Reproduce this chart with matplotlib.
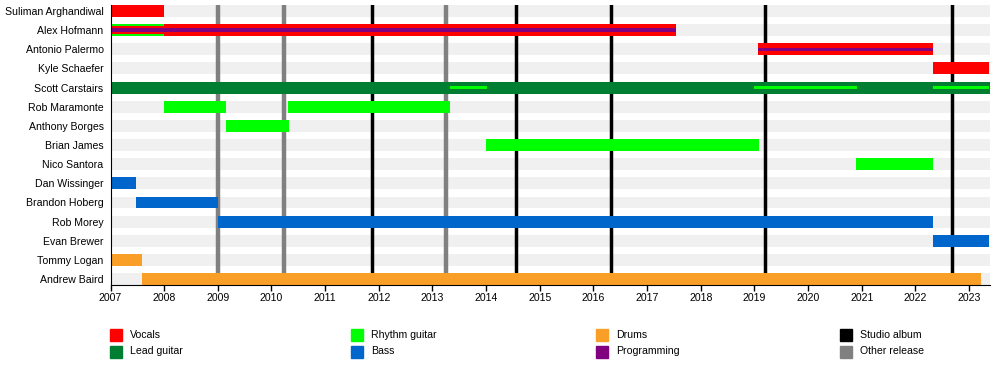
import matplotlib.pyplot as plt
from matplotlib.patches import Rectangle

plt.rcParams['font.family'] = ['Liberation Sans', 'DejaVu Sans']

# band members, top to bottom
members = ["Suliman Arghandiwal", "Alex Hofmann", "Antonio Palermo", "Kyle Schaefer",
           "Scott Carstairs", "Rob Maramonte", "Anthony Borges", "Brian James",
           "Nico Santora", "Dan Wissinger", "Brandon Hoberg", "Rob Morey",
           "Evan Brewer", "Tommy Logan", "Andrew Baird"]

START = 2007.0
END = 2023.38

# (member, start, end) for each role
vocals = [("Suliman Arghandiwal", 2007.0, 2008.0),
          ("Alex Hofmann", 2008.0, 2017.54),
          ("Antonio Palermo", 2019.06, 2022.33),
          ("Kyle Schaefer", 2022.33, END)]
lead_guitar = [("Scott Carstairs", 2007.0, END)]
rhythm_guitar = [("Alex Hofmann", 2007.0, 2008.0),
                 ("Rob Maramonte", 2008.0, 2009.16),
                 ("Rob Maramonte", 2010.31, 2013.33),
                 ("Anthony Borges", 2009.15, 2010.32),
                 ("Brian James", 2014.0, 2019.08),
                 ("Nico Santora", 2020.9, 2022.33)]
bass = [("Dan Wissinger", 2007.0, 2007.47),
        ("Brandon Hoberg", 2007.47, 2009.0),
        ("Rob Morey", 2009.0, 2022.33),
        ("Evan Brewer", 2022.33, END)]
drums = [("Tommy Logan", 2007.0, 2007.59),
         ("Andrew Baird", 2007.59, 2023.22)]

# secondary roles drawn as narrower bars inside the main one
vocals_inner = [("Alex Hofmann", 2007.0, 2008.0)]
programming = [("Alex Hofmann", 2007.0, 2017.54),
               ("Antonio Palermo", 2019.06, 2022.33)]
rhythm_inner = [("Scott Carstairs", 2013.32, 2014.02),
                ("Scott Carstairs", 2019.0, 2020.92),
                ("Scott Carstairs", 2022.33, END)]

studio_albums = [2011.88, 2014.56, 2016.33, 2019.19, 2022.69]
other_releases = [2009.0, 2010.24, 2013.25]

colors = {"Vocals": "#ff0000", "Lead guitar": "#007f33", "Rhythm guitar": "#00ff00",
          "Bass": "#0066cc", "Drums": "#f99f28", "Programming": "#800080",
          "Studio album": "#000000", "Other release": "#808080"}

fig = plt.figure(figsize=(10, 3.65), dpi=100)
ax = fig.add_axes([0.1105, 0.2192, 0.879, 0.767])

ypos = {m: i for i, m in enumerate(members)}

# background stripes
ax.barh(range(len(members)), END - START, left=START, height=0.62,
        color="#f0f0f0", zorder=0)

for x in studio_albums:
    ax.axvline(x, color=colors["Studio album"], lw=2.5, zorder=1)
for x in other_releases:
    ax.axvline(x, color=colors["Other release"], lw=3.2, zorder=1)


def draw(rows, color, h, z):
    for name, s, e in rows:
        ax.barh(ypos[name], e - s, left=s, height=h, color=color, zorder=z, lw=0)


draw(vocals, colors["Vocals"], 0.62, 2)
draw(lead_guitar, colors["Lead guitar"], 0.62, 2)
draw(rhythm_guitar, colors["Rhythm guitar"], 0.62, 2)
draw(bass, colors["Bass"], 0.62, 2)
draw(drums, colors["Drums"], 0.62, 2)
draw(vocals_inner, colors["Vocals"], 0.38, 3)
draw(rhythm_inner, colors["Rhythm guitar"], 0.2, 3)
draw(programming, colors["Programming"], 0.18, 4)

ax.set_xlim(START, END)
ax.set_ylim(len(members) - 1 + 0.31, -0.31)
ax.set_yticks(range(len(members)))
ax.set_yticklabels(members, fontsize=7.6)
ax.set_xticks(range(2007, 2024))
ax.tick_params(axis="x", labelsize=7.6, length=4, width=1, pad=2)
ax.tick_params(axis="y", length=0, pad=5)
ax.spines["top"].set_visible(False)
ax.spines["right"].set_visible(False)
ax.spines["left"].set_zorder(5)

# legend
legend_items = ["Vocals", "Lead guitar", "Rhythm guitar", "Bass",
                "Drums", "Programming", "Studio album", "Other release"]
col_x = [110, 351, 596, 840]
row_y = [334.5, 351.5]
W, H = 1000, 365
for k, label in enumerate(legend_items):
    cx = col_x[k // 2]
    cy = row_y[k % 2]
    fig.patches.append(Rectangle((cx / W, (H - cy - 6) / H), 12 / W, 12 / H,
                                 transform=fig.transFigure, color=colors[label]))
    fig.text((cx + 20) / W, (H - cy) / H, label, fontsize=7.6, va="center")

fig.savefig("out.png", dpi=100)
